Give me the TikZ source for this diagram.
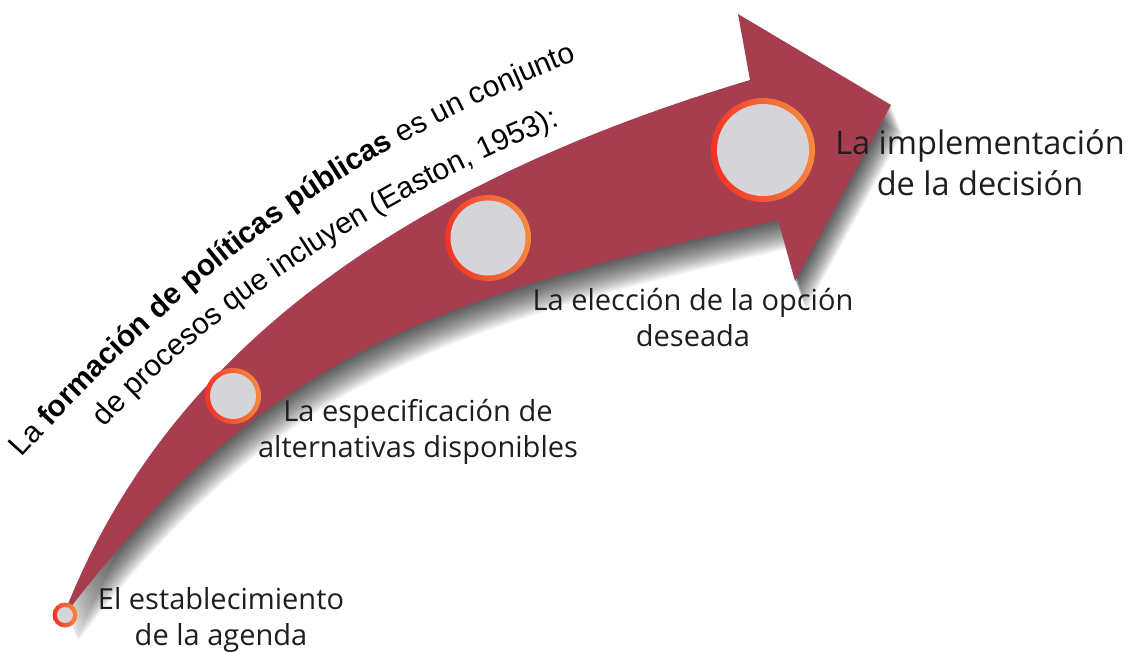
\documentclass[tikz,border=0pt]{standalone}
\usepackage{fontspec}
\newfontfamily\arialf{Liberation Sans}
\newfontfamily\osans{Open Sans}
\usetikzlibrary{decorations.text}
\definecolor{bandred}{RGB}{166,62,80}
\definecolor{ringred}{RGB}{242,50,40}
\definecolor{ringorange}{RGB}{246,138,62}
\definecolor{discgray}{RGB}{213,213,217}
\definecolor{labelgray}{RGB}{30,30,30}
\newcommand\arrowshape{(66,609) .. controls (176,333) and (430,176) .. (750,80) -- (738,14) -- (891,105) -- (795,281) -- (778,220) .. controls (428,300) and (266,354) .. (67,612) -- cycle}
\tikzset{
  lbl/.style={font=\osans\fontsize{29}{36}\selectfont, text=labelgray, align=center, inner sep=0pt},
  ringnode/.style={circle, inner sep=0pt, shading=axis, left color=ringred, right color=ringorange, shading angle=100},
  discnode/.style={circle, inner sep=0pt, fill=discgray},
}
\begin{document}
\begin{tikzpicture}[x=1pt,y=-1pt]
\useasboundingbox (0,0) rectangle (1132,652);
\fill[white] (0,0) rectangle (1132,652);
% soft shadow
\foreach \d in {1.5,3,...,28.5} {
  \begin{scope}[shift={(0.4*\d,\d)}]
    \fill[black, opacity=0.048] \arrowshape;
  \end{scope}
}
% band
\fill[bandred] \arrowshape;
% circles
\node[ringnode, minimum size=25] (r0) at (65,615) {};
\node[discnode, minimum size=16] (d0) at (65,615) {};
\node[ringnode, minimum size=56] (r1) at (233,396) {};
\node[discnode, minimum size=46] (d1) at (233,396) {};
\node[ringnode, minimum size=86] (r2) at (488,238) {};
\node[discnode, minimum size=75] (d2) at (488,238) {};
\node[ringnode, minimum size=104] (r3) at (763,150) {};
\node[discnode, minimum size=92] (d3) at (763,150) {};
% labels
\node[lbl] (l0) at (221,620) {El establecimiento\\de la agenda};
\node[lbl] (l1) at (418,432) {La especificación de\\alternativas disponibles};
\node[lbl] (l2) at (693,318) {La elección de la opción\\deseada};
\node[lbl, font=\osans\fontsize{32.5}{41}\selectfont] (l3) at (980,163) {La implementación\\de la decisión};
% curved title text
\path[decorate, decoration={text along path, text color=black,
  text={|\arialf\fontsize{29.8}{36}\selectfont|La |\arialf\bfseries\fontsize{29.8}{36}\selectfont|formación de políticas públicas |\arialf\mdseries\fontsize{29.8}{36}\selectfont|es un conjunto}}]
  (22,458) .. controls (189,273) and (345,152) .. (578,60) -- (720,10);
\path[decorate, decoration={text along path, text color=black,
  text={|\arialf\fontsize{29.8}{36}\selectfont|de procesos que incluyen (Easton, 1953):}}]
  (105,428) .. controls (217,302) and (402,189) .. (562,125) -- (700,72);
\end{tikzpicture}
\end{document}
